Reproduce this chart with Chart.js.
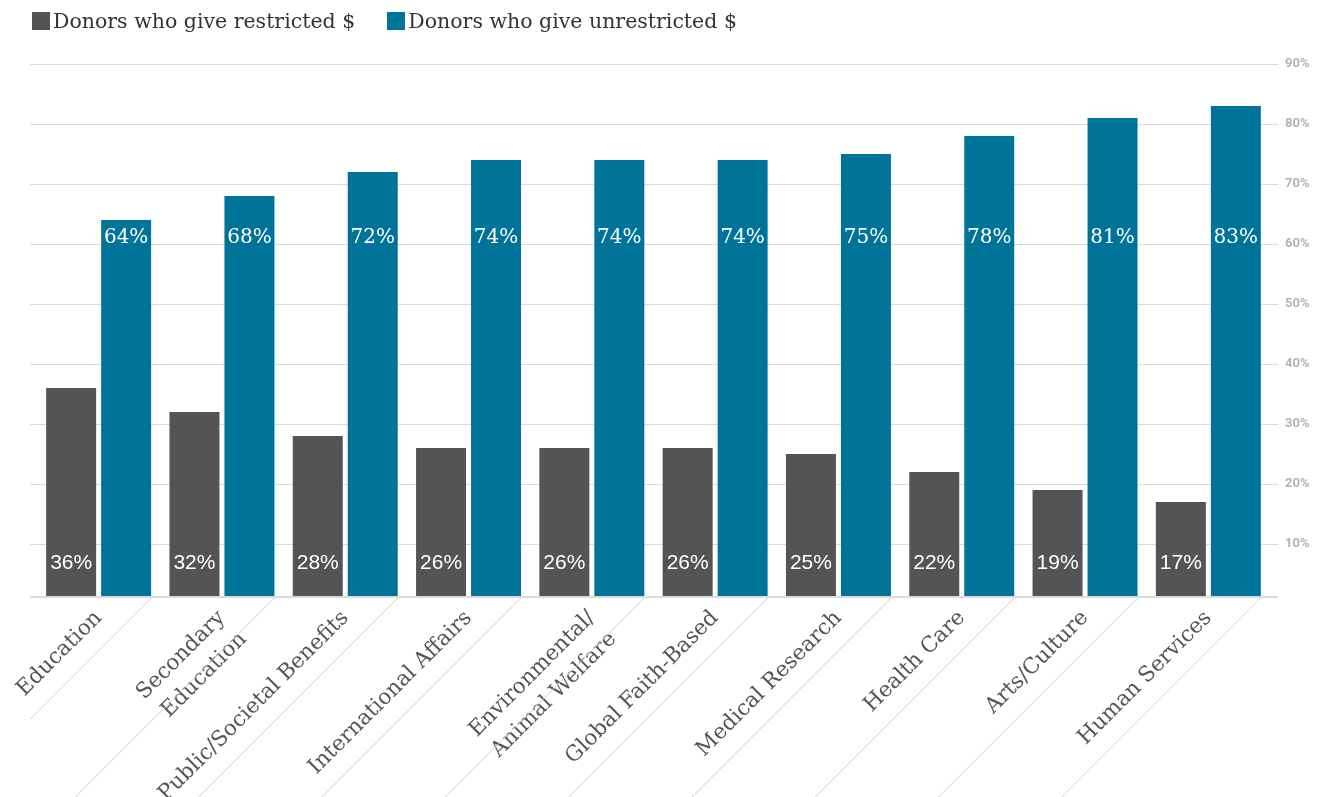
<!DOCTYPE html>
<html>
<head>
<meta charset="utf-8">
<script src="https://cdn.jsdelivr.net/npm/chart.js@4/dist/chart.umd.min.js"></script>
<style>
  html, body { margin: 0; padding: 0; background: #ffffff; }
  #wrap { position: relative; width: 1323px; height: 797px; }
  #legend { position: absolute; left: 32px; top: 9px; font-family: "DejaVu Serif", serif; font-size: 20.5px; color: #333333; white-space: nowrap; }
  #legend span.item { display: inline-flex; align-items: center; margin-right: 32px; }
  #legend span.box { display: inline-block; width: 18px; height: 18px; margin-right: 3px; }
</style>
</head>
<body>
<div id="wrap">
  <canvas id="chart" width="1323" height="797"></canvas>
  <div id="legend"></div>
</div>
<script>
// Categories and values
const categories = [
  "Education",
  ["Secondary", "Education"],
  "Public/Societal Benefits",
  "International Affairs",
  ["Environmental/", "Animal Welfare"],
  "Global Faith-Based",
  "Medical Research",
  "Health Care",
  "Arts/Culture",
  "Human Services"
];
const restricted   = [36, 32, 28, 26, 26, 26, 25, 22, 19, 17];
const unrestricted = [64, 68, 72, 74, 74, 74, 75, 78, 81, 83];
const seriesNames  = ["Donors who give restricted $", "Donors who give unrestricted $"];
const yTicks       = [10, 20, 30, 40, 50, 60, 70, 80, 90];

const GRAY = "#545456";
const BLUE = "#007398";
const GRID = "#dadada";

// HTML legend
const legendEl = document.getElementById("legend");
[[seriesNames[0], GRAY], [seriesNames[1], BLUE]].forEach(([name, col]) => {
  const item = document.createElement("span");
  item.className = "item";
  const box = document.createElement("span");
  box.className = "box";
  box.style.background = col;
  item.appendChild(box);
  item.appendChild(document.createTextNode(name));
  legendEl.appendChild(item);
});

// Horizontal grid lines, slightly wider than the plot area
const gridPlugin = {
  id: "gridLines",
  beforeDatasetsDraw(chart) {
    const { ctx, chartArea, scales } = chart;
    const y = scales.y;
    ctx.save();
    ctx.strokeStyle = GRID;
    ctx.lineWidth = 1;
    const x0 = chartArea.left - 7, x1 = chartArea.right + 8;
    yTicks.forEach(v => {
      const py = Math.round(y.getPixelForValue(v)) + 0.5;
      ctx.beginPath(); ctx.moveTo(x0, py); ctx.lineTo(x1, py); ctx.stroke();
    });
    ctx.lineWidth = 2;
    const pb = chartArea.bottom + 1;
    ctx.beginPath(); ctx.moveTo(x0, pb); ctx.lineTo(x1, pb); ctx.stroke();
    ctx.restore();
  }
};

// Diagonal separators under each category and value labels inside bars
const decoPlugin = {
  id: "deco",
  afterDatasetsDraw(chart) {
    const { ctx, chartArea, scales } = chart;
    const metaR = chart.getDatasetMeta(0);
    const metaU = chart.getDatasetMeta(1);
    const left = chartArea.left - 7;
    const bottomCanvas = chart.height;
    ctx.save();
    ctx.strokeStyle = "#cfcfcf";
    ctx.lineWidth = 1;
    metaU.data.forEach(bar => {
      const xs = bar.x + bar.width / 2;
      const ys = chartArea.bottom + 2;
      let len = Math.min(xs - left, bottomCanvas - ys);
      ctx.beginPath();
      ctx.moveTo(xs, ys);
      ctx.lineTo(xs - len, ys + len);
      ctx.stroke();
    });
    // value labels
    ctx.fillStyle = "#ffffff";
    ctx.textAlign = "center";
    ctx.textBaseline = "middle";
    ctx.font = "21px 'Liberation Sans', Arial, sans-serif";
    const yLow = scales.y.getPixelForValue(6.8);
    metaR.data.forEach((bar, i) => {
      ctx.fillText(restricted[i] + "%", bar.x, yLow);
    });
    ctx.font = "20px 'DejaVu Serif', serif";
    const yHigh = scales.y.getPixelForValue(61);
    metaU.data.forEach((bar, i) => {
      ctx.fillText(unrestricted[i] + "%", bar.x, yHigh);
    });
    ctx.restore();
  }
};

new Chart(document.getElementById("chart"), {
  type: "bar",
  data: {
    labels: categories,
    datasets: [
      { label: seriesNames[0], data: restricted, backgroundColor: GRAY },
      { label: seriesNames[1], data: unrestricted, backgroundColor: BLUE }
    ]
  },
  options: {
    responsive: false,
    animation: false,
    datasets: { bar: { categoryPercentage: 0.892, barPercentage: 0.909 } },
    layout: { padding: { left: 37, right: 0, top: 64, bottom: 0 } },
    plugins: { legend: { display: false }, tooltip: { enabled: false } },
    scales: {
      x: {
        grid: { display: false, drawTicks: false },
        border: { display: false },
        afterFit(scale) { scale.height = 201; },
        ticks: {
          autoSkip: false,
          maxRotation: 45,
          minRotation: 45,
          padding: 8,
          color: "#555557",
          font: { family: "'DejaVu Serif', serif", size: 21.5, lineHeight: 1.4 }
        }
      },
      y: {
        position: "right",
        min: 1.333,
        max: 90,
        grid: { display: false, drawTicks: false },
        border: { display: false },
        afterFit(scale) { scale.width = 53; },
        afterBuildTicks(scale) { scale.ticks = yTicks.map(v => ({ value: v })); },
        ticks: {
          padding: 15,
          color: "#b3b3b3",
          font: { family: "Roboto, sans-serif", size: 13, weight: "bold" },
          callback: v => v + "%"
        }
      }
    }
  },
  plugins: [gridPlugin, decoPlugin]
});
</script>
</body>
</html>
